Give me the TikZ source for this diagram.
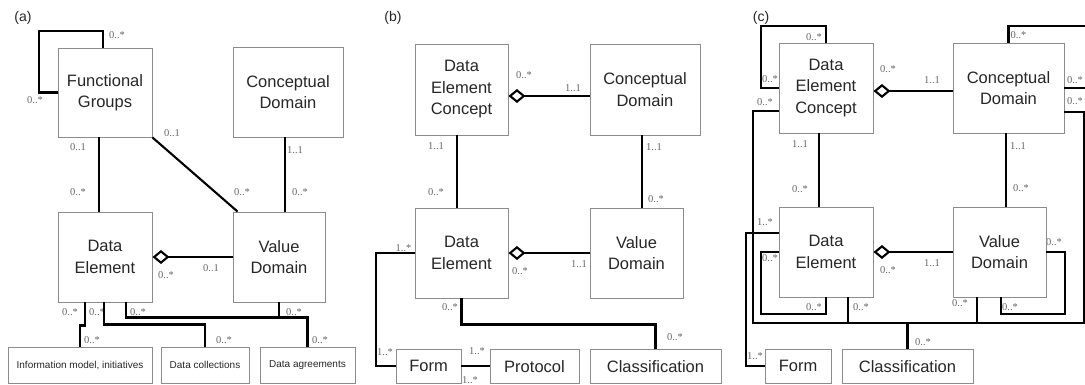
\documentclass[tikz,border=0pt]{standalone}
\usepackage{fontspec}
\setmainfont{Liberation Sans}
\newfontfamily\multfont{Liberation Serif}
\usetikzlibrary{arrows.meta}

\tikzset{
	cls/.style={draw=black!45, line width=0.9pt, align=center, inner sep=0pt, text=black!85, font=\fontsize{16.5}{21.5}\selectfont},
	smallcls/.style={cls, font=\fontsize{10}{12}\selectfont},
	mult/.style={text=black!60, inner sep=0pt, font=\multfont\fontsize{10.5}{12}\selectfont},
	panel/.style={text=black!85, inner sep=0pt, font=\fontsize{14}{16}\selectfont},
	link/.style={line width=2.1pt},
	agg/.style={line width=2.1pt, -{Diamond[open, length=17pt, width=14pt]}}
}

\begin{document}
\begin{tikzpicture}[x=1pt, y=-1pt]
		%%%%% START %%%%%
		\useasboundingbox (0,0) rectangle (1085,384);
		\clip (0,0) rectangle (1085,384);
		
		\node[panel] at (23,17.5) {(a)};
		\node[panel] at (393,17.5) {(b)};
		\node[panel] at (761,18) {(c)};
		
		%% multiplicities (a)
		\node[mult] at (117,35) {0..*};
		\node[mult] at (35,100) {0..*};
		\node[mult] at (78,147) {0..1};
		\node[mult] at (78,192) {0..*};
		\node[mult] at (172,133) {0..1};
		\node[mult] at (242,192) {0..*};
		\node[mult] at (295,150) {1..1};
		\node[mult] at (300,192) {0..*};
		\node[mult] at (166,275) {0..*};
		\node[mult] at (211,268) {0..1};
		\node[mult] at (70,312) {0..*};
		\node[mult] at (97,312) {0..*};
		\node[mult] at (138,312) {0..*};
		\node[mult] at (294,312) {0..*};
		\node[mult] at (92,340) {0..*};
		\node[mult] at (224,340) {0..*};
		\node[mult] at (320,340) {0..*};
		
		%% multiplicities (b)
		\node[mult] at (524,75) {0..*};
		\node[mult] at (573,88) {1..1};
		\node[mult] at (436,146) {1..1};
		\node[mult] at (436,192) {0..*};
		\node[mult] at (654,147) {1..1};
		\node[mult] at (656,199) {0..*};
		\node[mult] at (520,271) {0..*};
		\node[mult] at (579,264) {1..1};
		\node[mult] at (403.5,248) {1..*};
		\node[mult] at (385,352) {1..*};
		\node[mult] at (450,307) {0..*};
		\node[mult] at (675,337) {0..*};
		\node[mult] at (477,351) {1..*};
		\node[mult] at (470,380) {1..*};
		
		%% multiplicities (c)
		\node[mult] at (814,37) {0..*};
		\node[mult] at (770,79) {0..*};
		\node[mult] at (765,102) {0..*};
		\node[mult] at (888,69) {0..*};
		\node[mult] at (932,80) {1..1};
		\node[mult] at (800,144) {1..1};
		\node[mult] at (800,189) {0..*};
		\node[mult] at (1018.5,35) {0..*};
		\node[mult] at (1018,146) {1..1};
		\node[mult] at (1021,188) {0..*};
		\node[mult] at (1075,80) {0..*};
		\node[mult] at (1075,101) {0..*};
		\node[mult] at (765,222) {1..*};
		\node[mult] at (770,258) {0..*};
		\node[mult] at (814,307) {0..*};
		\node[mult] at (861,307) {0..*};
		\node[mult] at (888,270) {0..*};
		\node[mult] at (932,263) {1..1};
		\node[mult] at (960,303) {0..*};
		\node[mult] at (1010,307) {0..*};
		\node[mult] at (1054,242) {0..*};
		\node[mult] at (923,342) {0..*};
		\node[mult] at (755,356) {1..*};
		
		%% classes (a)
		\node[cls, minimum width=94, minimum height=89] (a-fg) at (105,92.5) {Functional\\Groups};
		\node[cls, minimum width=110, minimum height=90] (a-cd) at (288,92) {Conceptual\\Domain};
		\node[cls, minimum width=94, minimum height=90] (a-de) at (105,257) {Data\\Element};
		\node[cls, minimum width=92, minimum height=90] (a-vd) at (279,257) {Value\\Domain};
		\node[smallcls, minimum width=144, minimum height=36.5] (a-im) at (80,365.25) {Information model, initiatives};
		\node[smallcls, minimum width=88, minimum height=36.5] (a-dc) at (205,365.25) {Data collections};
		\node[smallcls, minimum width=95, minimum height=36.5] (a-da) at (307.5,365.25) {Data agreements};
		
		\draw[link] ([xshift=-2pt]a-fg.north) |- (39,31) |- (a-fg.west);
		\draw[link] ([xshift=-6pt]a-fg.south) -- ([xshift=-6pt]a-de.north);
		\draw[link] (a-fg.south east) -- ([xshift=5pt]a-vd.north west);
		\draw[link] ([xshift=-3pt]a-cd.south) -- ([xshift=6pt]a-vd.north);
		\draw[agg] (a-vd.west) -- (a-de.east);
		\draw[link] ([xshift=-20pt]a-de.south) -- ++(0,23) -| (a-im.north);
		\draw[link] ([xshift=-1pt]a-de.south) -- ++(0,22) -| (a-dc.north);
		\draw[link] ([xshift=21pt]a-de.south) -- ++(0,15) -| (a-da.north);
		\draw[link] (a-vd.south) -- ++(0,15);
		
		%% classes (b)
		\node[cls, minimum width=93, minimum height=91] (b-dec) at (461.5,89.5) {Data\\Element\\Concept};
		\node[cls, minimum width=110, minimum height=91] (b-cd) at (645,89.5) {Conceptual\\Domain};
		\node[cls, minimum width=93, minimum height=90] (b-de) at (461.5,253) {Data\\Element};
		\node[cls, minimum width=93, minimum height=90] (b-vd) at (636.5,253) {Value\\Domain};
		\node[cls, minimum width=65, minimum height=34.5] (b-form) at (428.5,366.25) {Form};
		\node[cls, minimum width=89, minimum height=34.5] (b-prot) at (534.5,366.25) {Protocol};
		\node[cls, minimum width=131, minimum height=34.5] (b-cls) at (655.5,366.25) {Classification};
		
		\draw[agg] ([yshift=-6.5pt]b-cd.west) -- ([yshift=-6.5pt]b-dec.east);
		\draw[link] ([xshift=-4.5pt]b-dec.south) -- ([xshift=-4.5pt]b-de.north);
		\draw[link] ([xshift=-3pt]b-cd.south) -- ([xshift=5.5pt]b-vd.north);
		\draw[agg] (b-vd.west) -- (b-de.east);
		\draw[link] (b-de.west) -| ([xshift=-20pt]b-form.west) -- (b-form.west);
		\draw[link] (b-de.south) -- ++(0,26) -| (b-cls.north);
		\draw[link] (b-form.east) -- (b-prot.west);
		
		%% classes (c)
		\node[cls, minimum width=94, minimum height=90] (c-dec) at (826,88) {Data\\Element\\Concept};
		\node[cls, minimum width=111, minimum height=90] (c-cd) at (1008.5,88) {Conceptual\\Domain};
		\node[cls, minimum width=94, minimum height=90] (c-de) at (826,252) {Data\\Element};
		\node[cls, minimum width=93, minimum height=90] (c-vd) at (999.5,252) {Value\\Domain};
		\node[cls, minimum width=66, minimum height=34.5] (c-form) at (798,366.25) {Form};
		\node[cls, minimum width=131, minimum height=34.5] (c-cls) at (907.5,366.25) {Classification};
		\coordinate (c-busl) at (753,323);
		\coordinate (c-busr) at (1084,323);
		
		\draw[link] (c-dec.north) |- (761,26) |- (c-dec.west);
		\draw[agg] ([yshift=-3pt]c-cd.west) -- ([yshift=-3pt]c-dec.east);
		\draw[link] ([yshift=-23pt]c-dec.west) -| (c-busl) -- (c-busr) |- ([yshift=-24pt]c-cd.east);
		\draw[link] ([xshift=-7pt]c-dec.south) -- ([xshift=-7pt]c-de.north);
		\draw[link] (c-cd.north) |- (1100,26) |- (c-cd.east);
		\draw[link] ([xshift=-2.5pt]c-cd.south) -- ([xshift=6.5pt]c-vd.north);
		\draw[agg] (c-vd.west) -- (c-de.east);
		\draw[link] ([yshift=19pt]c-de.west) -| ([xshift=-19pt]c-form.west) -- (c-form.west);
		\draw[link] (c-de.west) -| (761,314) -| (c-de.south);
		\draw[link] ([xshift=22pt]c-de.south) -- ++(0,26);
		\draw[link] ([xshift=-22.5pt]c-vd.south) -- ++(0,26);
		\draw[link] (c-vd.east) -| (1065,314) -| ([xshift=1.5pt]c-vd.south);
		\draw[link] (c-cls.north) -- (c-cls.north |- c-busl);
		
		%%%%% END %%%%%
\end{tikzpicture}
\end{document}
